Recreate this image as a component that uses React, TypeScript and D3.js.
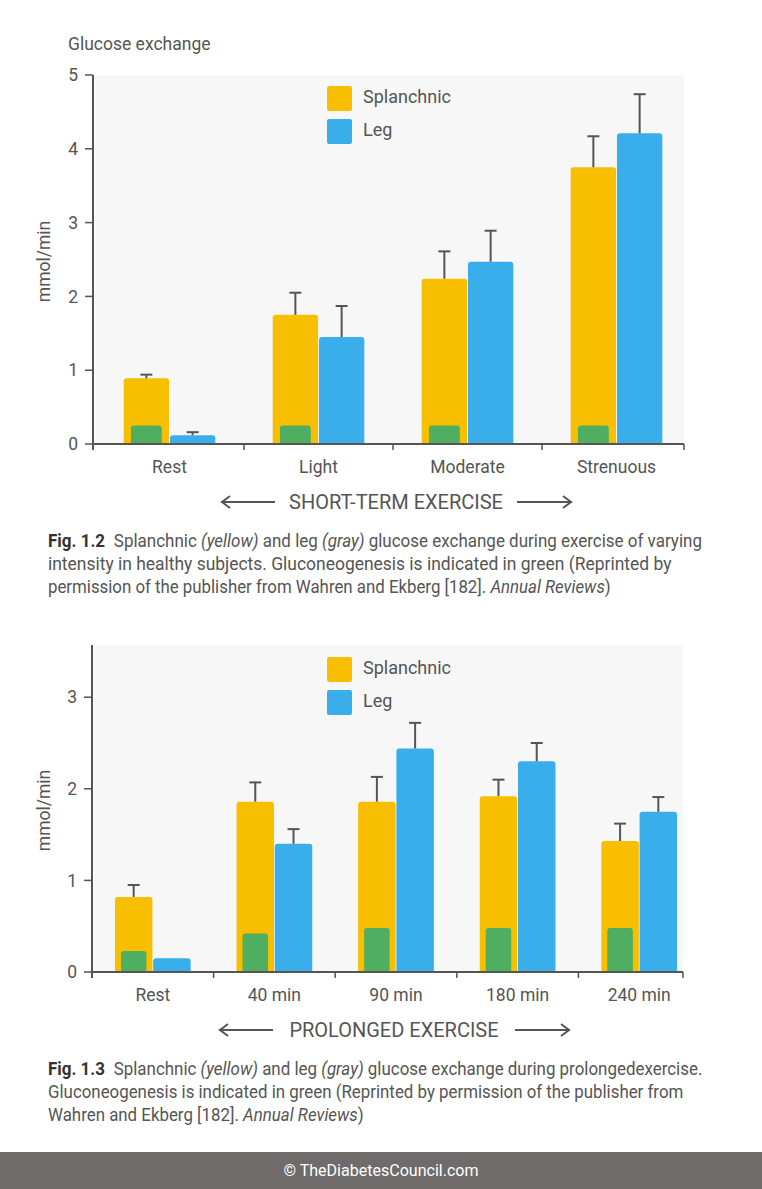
import * as d3 from 'd3';
import { useLayoutEffect, useRef, useState } from 'react';

// short-term exercise (Fig 1.2)
const shortCategories = ['Rest', 'Light', 'Moderate', 'Strenuous'];
const shortSplanchnic = [0.89, 1.75, 2.24, 3.75];
const shortSplanchnicErr = [0.94, 2.05, 2.61, 4.17];
const shortLeg = [0.12, 1.45, 2.47, 4.21];
const shortLegErr = [0.16, 1.87, 2.89, 4.74];
const shortGluconeo = [0.25, 0.25, 0.25, 0.25];
const shortTicks = [0, 1, 2, 3, 4, 5];

// prolonged exercise (Fig 1.3)
const longCategories = ['Rest', '40 min', '90 min', '180 min', '240 min'];
const longSplanchnic = [0.82, 1.86, 1.86, 1.92, 1.43];
const longSplanchnicErr = [0.95, 2.07, 2.13, 2.1, 1.62];
const longLeg = [0.15, 1.4, 2.44, 2.3, 1.75];
const longLegErr: (number | null)[] = [null, 1.56, 2.72, 2.5, 1.91];
const longGluconeo = [0.23, 0.42, 0.48, 0.48, 0.48];
const longTicks = [0, 1, 2, 3];

const seriesNames = ['Splanchnic', 'Leg'];

const YELLOW = '#f7bf00';
const BLUE = '#3aaeea';
const GREEN = '#4fae5f';
const INK = '#555555';
const FONT = 'Roboto, sans-serif';

type PanelProps = {
  categories: string[];
  splanchnic: number[];
  splanchnicErr: (number | null)[];
  leg: number[];
  legErr: (number | null)[];
  gluconeo: number[];
  ticks: number[];
  yMax: number;
  top: number;
  bottom: number;
  bandStart: number;
  bandEnd: number;
  axisLeft: number;
  axisRight: number;
  outerPad: number;
  legendY: number;
  label: string;
  labelY: number;
  arrows: [number, number, number, number];
};

function Panel(p: PanelProps) {
  const y = d3.scaleLinear().domain([0, p.yMax]).range([p.bottom, p.top]);
  const x = d3
    .scaleBand<string>()
    .domain(p.categories)
    .range([p.bandStart, p.bandEnd]);
  const inner = d3
    .scaleBand<string>()
    .domain(seriesNames)
    .range([0, x.bandwidth()])
    .paddingInner(0.02)
    .paddingOuter(p.outerPad);
  const bw = inner.bandwidth();
  const greenW = bw * 0.68;

  const bar = (x0: number, w: number, v: number, fill: string, key: string) => {
    const h = y(0) - y(v);
    const r = Math.min(3, h / 2);
    const y0 = y(v);
    const d = `M${x0},${y(0)}V${y0 + r}Q${x0},${y0} ${x0 + r},${y0}H${x0 + w - r}Q${x0 + w},${y0} ${x0 + w},${y0 + r}V${y(0)}Z`;
    return <path key={key} d={d} fill={fill} />;
  };

  const errBar = (cx: number, v: number, e: number | null, key: string) => {
    if (e == null) return null;
    return (
      <g key={key} stroke={INK} strokeWidth={2}>
        <line x1={cx} x2={cx} y1={y(v)} y2={y(e)} />
        <line x1={cx - 6} x2={cx + 6} y1={y(e)} y2={y(e)} />
      </g>
    );
  };

  const boundaries = p.categories
    .slice(1)
    .map((c) => x(c) as number)
    .concat([p.axisRight]);

  const [la, lb, ra, rb] = p.arrows;

  return (
    <g>
      <rect
        x={p.axisLeft + 2}
        y={p.top}
        width={p.axisRight - p.axisLeft - 2}
        height={p.bottom - p.top}
        fill="#f7f7f7"
      />
      {p.categories.map((c, i) => {
        const bx = x(c) as number;
        const sx = bx + (inner('Splanchnic') as number);
        const lx = bx + (inner('Leg') as number);
        return (
          <g key={c}>
            {bar(sx, bw, p.splanchnic[i], YELLOW, 's')}
            {bar(lx, bw, p.leg[i], BLUE, 'l')}
            {bar(sx + (bw - greenW) / 2, greenW, p.gluconeo[i], GREEN, 'g')}
            {errBar(sx + bw / 2, p.splanchnic[i], p.splanchnicErr[i], 'se')}
            {errBar(lx + bw / 2, p.leg[i], p.legErr[i], 'le')}
            <text
              x={bx + x.bandwidth() / 2}
              y={p.bottom + 23}
              dy="0.35em"
              textAnchor="middle"
              fontFamily={FONT}
              fontSize={17.5}
              fill={INK}
            >
              {c}
            </text>
          </g>
        );
      })}
      <g stroke={INK} strokeWidth={2} fill="none">
        <line x1={p.axisLeft} x2={p.axisLeft} y1={p.top} y2={p.bottom + 6} />
        <line x1={p.axisLeft} x2={p.axisRight} y1={p.bottom} y2={p.bottom} />
        {boundaries.map((b, i) => (
          <line key={i} x1={b} x2={b} y1={p.bottom} y2={p.bottom + 6} strokeWidth={1.5} />
        ))}
        {p.ticks.map((t) => (
          <line key={t} x1={p.axisLeft - 8} x2={p.axisLeft} y1={y(t)} y2={y(t)} strokeWidth={1.5} />
        ))}
      </g>
      {p.ticks.map((t) => (
        <text
          key={t}
          x={p.axisLeft - 15}
          y={y(t)}
          dy="0.35em"
          textAnchor="end"
          fontFamily={FONT}
          fontSize={17.5}
          fill={INK}
        >
          {t}
        </text>
      ))}
      <text
        transform={`translate(44,${(p.top + p.bottom) / 2 + 2}) rotate(-90)`}
        textAnchor="middle"
        dy="0.35em"
        fontFamily={FONT}
        fontSize={17.5}
        fill={INK}
      >
        mmol/min
      </text>
      {seriesNames.map((s, i) => (
        <g key={s} transform={`translate(327,${p.legendY + i * 33})`}>
          <rect width={25} height={25} rx={2} fill={i === 0 ? YELLOW : BLUE} />
          <text x={36} y={10.5} dy="0.35em" fontFamily={FONT} fontSize={18} fill={INK}>
            {s}
          </text>
        </g>
      ))}
      <text
        x={(lb + ra) / 2}
        y={p.labelY}
        dy="0.35em"
        textAnchor="middle"
        fontFamily={FONT}
        fontSize={20}
        fill={INK}
      >
        {p.label}
      </text>
      <g stroke={INK} strokeWidth={2} fill="none">
        <line x1={la} x2={lb} y1={p.labelY} y2={p.labelY} />
        <polyline points={`${la + 9},${p.labelY - 6} ${la + 1},${p.labelY} ${la + 9},${p.labelY + 6}`} />
        <line x1={ra} x2={rb} y1={p.labelY} y2={p.labelY} />
        <polyline points={`${rb - 9},${p.labelY - 6} ${rb - 1},${p.labelY} ${rb - 9},${p.labelY + 6}`} />
      </g>
    </g>
  );
}

// text squeezed horizontally to a target width, to mimic the condensed caption face
function FitText({
  x,
  y,
  width,
  anchor = 'start',
  fill = INK,
  size = 18.5,
  children,
}: {
  x: number;
  y: number;
  width: number;
  anchor?: 'start' | 'middle';
  fill?: string;
  size?: number;
  children: any;
}) {
  const ref = useRef<SVGTextElement>(null);
  const [s, setS] = useState(0.8);
  useLayoutEffect(() => {
    if (!ref.current) return;
    const w = ref.current.getBBox().width;
    if (w > 0) setS(width / w);
  }, [width]);
  return (
    <text
      ref={ref}
      transform={`translate(${x},${y}) scale(${s},1)`}
      textAnchor={anchor}
      fontFamily={FONT}
      fontSize={size}
      fill={fill}
    >
      {children}
    </text>
  );
}

export default function App() {
  return (
    <svg
      xmlns="http://www.w3.org/2000/svg"
      width={762}
      height={1189}
      style={{ position: 'absolute', left: 0, top: 0, background: '#fff' }}
    >
      <rect width={762} height={1189} fill="#fff" />
      <text x={68} y={44} dy="0.35em" fontFamily={FONT} fontSize={17.5} fill={INK}>
        Glucose exchange
      </text>
      <Panel
        categories={shortCategories}
        splanchnic={shortSplanchnic}
        splanchnicErr={shortSplanchnicErr}
        leg={shortLeg}
        legErr={shortLegErr}
        gluconeo={shortGluconeo}
        ticks={shortTicks}
        yMax={5}
        top={75}
        bottom={444}
        bandStart={95}
        bandEnd={691}
        axisLeft={93}
        axisRight={684}
        outerPad={0.62}
        legendY={86}
        label="SHORT-TERM EXERCISE"
        labelY={502}
        arrows={[221, 275, 517, 572]}
      />
      <FitText x={48} y={547} width={654}>
        <tspan fontWeight="bold" fill="#333">Fig. 1.2</tspan>
        <tspan dx={5}>{' Splanchnic '}</tspan>
        <tspan fontStyle="italic">(yellow)</tspan>
        {' and leg '}
        <tspan fontStyle="italic">(gray)</tspan>
        {' glucose exchange during exercise of varying'}
      </FitText>
      <FitText x={48} y={570} width={624}>
        intensity in healthy subjects. Gluconeogenesis is indicated in green (Reprinted by
      </FitText>
      <FitText x={48} y={593} width={563}>
        {'permission of the publisher from Wahren and Ekberg [182]. '}
        <tspan fontStyle="italic">Annual Reviews</tspan>
        {')'}
      </FitText>
      <Panel
        categories={longCategories}
        splanchnic={longSplanchnic}
        splanchnicErr={longSplanchnicErr}
        leg={longLeg}
        legErr={longLegErr}
        gluconeo={longGluconeo}
        ticks={longTicks}
        yMax={3.57}
        top={645}
        bottom={972}
        bandStart={92}
        bandEnd={700}
        axisLeft={92}
        axisRight={683}
        outerPad={0.6}
        legendY={657}
        label="PROLONGED EXERCISE"
        labelY={1030}
        arrows={[219, 273, 515, 570]}
      />
      <FitText x={48} y={1075} width={655}>
        <tspan fontWeight="bold" fill="#333">Fig. 1.3</tspan>
        <tspan dx={5}>{' Splanchnic '}</tspan>
        <tspan fontStyle="italic">(yellow)</tspan>
        {' and leg '}
        <tspan fontStyle="italic">(gray)</tspan>
        {' glucose exchange during prolongedexercise.'}
      </FitText>
      <FitText x={48} y={1098} width={636}>
        Gluconeogenesis is indicated in green (Reprinted by permission of the publisher from
      </FitText>
      <FitText x={48} y={1121} width={316}>
        {'Wahren and Ekberg [182]. '}
        <tspan fontStyle="italic">Annual Reviews</tspan>
        {')'}
      </FitText>
      <rect x={0} y={1152} width={762} height={37} fill="#6f6b6b" />
      <FitText x={381} y={1176} width={195} anchor="middle" fill="#fff" size={17}>
        © TheDiabetesCouncil.com
      </FitText>
    </svg>
  );
}
